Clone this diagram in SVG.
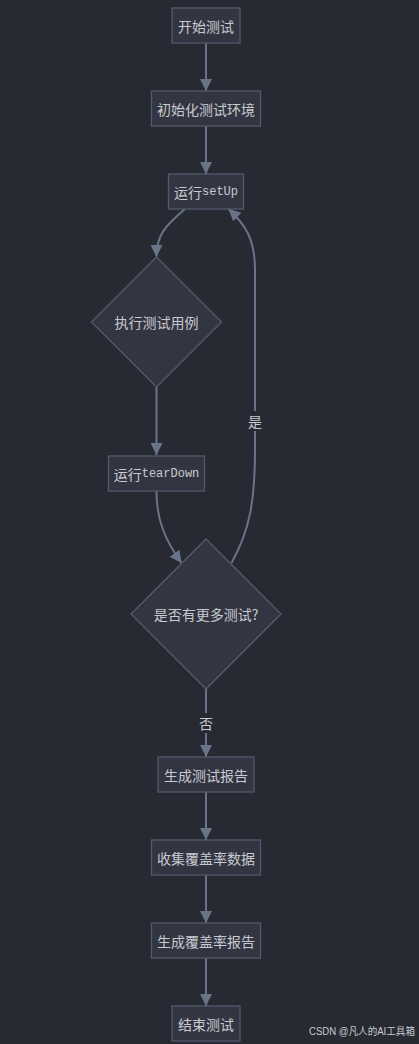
<svg xmlns="http://www.w3.org/2000/svg" width="419" height="1044" viewBox="0 0 419 1044">
<style>
.n{fill:#333642;stroke:#535a6b;stroke-width:1.3}
.t{font-family:"Noto Sans CJK SC","Liberation Sans",sans-serif;font-size:14px;fill:#c8cad0;text-anchor:middle;dominant-baseline:central}
.m{font-family:"Liberation Mono",monospace;font-size:12px}
.e{fill:none;stroke:#6a7489;stroke-width:2}
.lb{fill:#272a32}
</style>
<defs>
<marker id="a" markerUnits="userSpaceOnUse" markerWidth="12" markerHeight="12" refX="12" refY="6" orient="auto">
<path d="M0,0 L12,6 L0,12 z" fill="#6a7489"/>
</marker>
</defs>
<rect width="419" height="1044" fill="#272a32"/>
<g id="edges">
<path class="e" d="M206,43 L206,91" marker-end="url(#a)"/>
<path class="e" d="M206,126 L206,174" marker-end="url(#a)"/>
<path class="e" d="M185,209 C165,226 156.5,235 156.5,257" marker-end="url(#a)"/>
<path class="e" d="M156.5,387 L156.5,455" marker-end="url(#a)"/>
<path class="e" d="M156.5,491 C156.5,520 165,540 181.5,563" marker-end="url(#a)"/>
<path class="e" d="M231.5,563 C250,530 255,500 255,450 L255,270 C255,240 246,225 228.5,209" marker-end="url(#a)"/>
<path class="e" d="M206,689 L206,757" marker-end="url(#a)"/>
<path class="e" d="M206,792 L206,840" marker-end="url(#a)"/>
<path class="e" d="M206,875 L206,923" marker-end="url(#a)"/>
<path class="e" d="M206,958 L206,1006" marker-end="url(#a)"/>
<g id="label-yes"><rect class="lb" x="247" y="411" width="16" height="20"/><text class="t" x="255" y="421">是</text></g>
<g id="label-no"><rect class="lb" x="198" y="713" width="16" height="20"/><text class="t" x="206" y="723">否</text></g>
</g>
<g id="start"><rect class="n" x="172" y="8" width="68" height="35"/><text class="t" x="206" y="25.5">开始测试</text></g>
<g id="init"><rect class="n" x="151.5" y="91" width="109" height="35"/><text class="t" x="206" y="108.5">初始化测试环境</text></g>
<g id="setup"><rect class="n" x="168.5" y="174" width="75" height="35"/><text class="t" x="206" y="191.5">运行<tspan class="m">setUp</tspan></text></g>
<g id="exec"><polygon class="n" points="156.5,257 221.5,322 156.5,387 91.5,322"/><text class="t" x="156.5" y="322">执行测试用例</text></g>
<g id="teardown"><rect class="n" x="108.5" y="456" width="96" height="35"/><text class="t" x="156.5" y="473.5">运行<tspan class="m">tearDown</tspan></text></g>
<g id="more"><polygon class="n" points="206,539 281,614 206,689 131,614"/><text class="t" x="206" y="614">是否有更多测试?</text></g>
<g id="report"><rect class="n" x="158" y="757" width="96" height="35"/><text class="t" x="206" y="774.5">生成测试报告</text></g>
<g id="collect"><rect class="n" x="151.5" y="840" width="109" height="35"/><text class="t" x="206" y="857.5">收集覆盖率数据</text></g>
<g id="covreport"><rect class="n" x="151.5" y="923" width="109" height="35"/><text class="t" x="206" y="940.5">生成覆盖率报告</text></g>
<g id="end"><rect class="n" x="172" y="1006" width="68" height="35"/><text class="t" x="206" y="1023.5">结束测试</text></g>
<text x="309" y="1035" textLength="106" lengthAdjust="spacingAndGlyphs" font-family="Liberation Sans,Noto Sans CJK SC,sans-serif" font-size="10" fill="#c8cad0">CSDN @凡人的AI工具箱</text>
</svg>
